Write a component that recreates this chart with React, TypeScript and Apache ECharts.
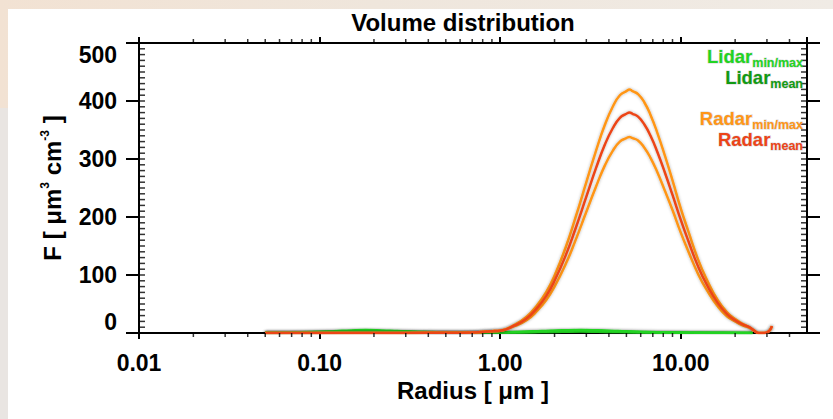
import React, { useEffect, useRef } from 'react';
import * as echarts from 'echarts';

const FONT = '"Liberation Sans", Arial, Helvetica, sans-serif';

// ---- data ----
const radarRadius = [0.05, 0.07, 0.1, 0.15, 0.2, 0.3, 0.5, 0.7, 0.9, 1.0, 1.2, 1.4, 1.6, 1.8, 2.0, 2.3, 2.6, 3.0, 3.4, 3.8, 4.2, 4.6, 5.0, 5.2, 5.4, 5.8, 6.3, 6.8, 7.4, 8.2, 9.0, 10, 11, 12.5, 14, 16, 18, 20, 22, 24, 25.5, 27, 29, 30.5, 32];
const radarMean = [0, 0, 0, 0, 0, 0, 0.5, 1, 3, 4, 13, 25, 43, 64, 90, 133, 178, 235, 285, 325, 353, 371, 378, 380, 378, 373, 359, 340, 313, 275, 238, 195, 159, 114, 82, 52, 33, 22, 15, 10, 4, 0, 0, 2, 12];
const radarMax = [0, 0, 0, 0, 0, 0, 0.5, 1, 3, 4, 14, 28, 48, 71, 99, 147, 197, 260, 315, 359, 390, 410, 417, 420, 417, 412, 397, 376, 346, 304, 263, 215, 176, 126, 91, 57, 36, 24, 16, 10, 4, 0, 0, 2, 12];
const radarMin = [0, 0, 0, 0, 0, 0, 0.5, 1, 3, 4, 12, 22, 38, 57, 80, 118, 158, 209, 253, 289, 314, 330, 336, 338, 336, 332, 319, 302, 278, 244, 212, 173, 141, 101, 73, 46, 29, 20, 13, 9, 4, 0, 0, 2, 12];

const lidarRadius = [0.05, 0.07, 0.09, 0.12, 0.15, 0.18, 0.22, 0.27, 0.35, 0.45, 0.6, 0.8, 1.0, 1.3, 1.7, 2.2, 2.8, 3.5, 4.5, 6, 8, 11, 15, 20, 25];
const lidarMean = [0.3, 0.6, 1.2, 2.2, 3.2, 3.6, 3.2, 2.4, 1.5, 0.9, 0.6, 0.6, 0.9, 1.5, 2.4, 3.3, 3.7, 3.3, 2.4, 1.5, 0.9, 0.5, 0.3, 0.2, 0.1];
const lidarMax = [0.4, 0.9, 1.7, 3.1, 4.5, 5.1, 4.5, 3.4, 2.1, 1.3, 0.9, 0.9, 1.3, 2.1, 3.4, 4.6, 5.2, 4.6, 3.4, 2.1, 1.3, 0.7, 0.4, 0.3, 0.1];
const lidarMin = [0.2, 0.4, 0.8, 1.5, 2.1, 2.4, 2.1, 1.6, 1.0, 0.6, 0.4, 0.4, 0.6, 1.0, 1.6, 2.2, 2.5, 2.2, 1.6, 1.0, 0.6, 0.3, 0.2, 0.1, 0.1];

// axis settings
const xMin = 0.01;
const xMax = 50;
const yMin = 0;
const yMax = 500;
const yStep = 100;
const xDecades = [0.01, 0.1, 1, 10];
const xMinorMultipliers = [2, 3, 4, 5, 6, 7, 8, 9];
const yMinorStep = 10;

const COLORS = {
  lidarMinMax: '#22d322',
  lidarMean: '#129a12',
  radarMinMax: '#ff9618',
  radarMean: '#ec4418',
};

const pairs = (xs: number[], ys: number[]) => xs.map((x, i) => [x, ys[i]]);

const xMinorTicks: number[] = [];
xDecades.forEach((d) => xMinorMultipliers.forEach((m) => { const v = +(d * m).toPrecision(6); if (v < xMax) xMinorTicks.push(v); }));
const yMinorTicks: number[] = [];
for (let v = yMin + yMinorStep; v < yMax; v += yMinorStep) yMinorTicks.push(v);

const lineSeries = (name: string, xs: number[], ys: number[], color: string, width: number, z: number) => ({
  type: 'line',
  name,
  data: pairs(xs, ys),
  showSymbol: false,
  smooth: 0.5,
  z,
  lineStyle: { color, width, shadowColor: 'rgba(0,0,0,0.3)', shadowBlur: 3 },
  silent: true,
});

const tickSeries = (data: number[][], size: number[], offset: number[]) => ({
  type: 'scatter',
  data,
  symbol: 'rect',
  symbolSize: size,
  symbolOffset: offset,
  itemStyle: { color: '#000' },
  clip: false,
  silent: true,
  z: 10,
});

const labelFmt = (v: number) => {
  const l = Math.log10(v);
  if (Math.abs(l - Math.round(l)) > 1e-6) return '';
  return v.toFixed(2);
};

const axisLineStyle = { color: '#000', width: 2 };

const legendText = (main: string, sub: string, color: string, x: number, y: number) => ({
  type: 'text',
  x,
  y,
  z: 20,
  style: {
    text: `{a|${main}}{b|${sub}}`,
    align: 'right',
    verticalAlign: 'middle',
    stroke: 'rgba(140,140,140,0.35)',
    lineWidth: 1.2,
    rich: {
      a: { fontSize: 18.5, fontWeight: 'bold', fontFamily: FONT, fill: color, padding: [0, 0, 3, 0], verticalAlign: 'bottom' },
      b: { fontSize: 12.5, fontWeight: 'bold', fontFamily: FONT, fill: color, verticalAlign: 'bottom' },
    },
  },
});

const option: any = {
  animation: false,
  grid: { left: 139, right: 26, top: 43, bottom: 86, containLabel: false },
  xAxis: [
    {
      type: 'log', logBase: 10, min: xMin, max: xMax, position: 'bottom',
      splitLine: { show: false },
      axisLine: { show: true, onZero: false, lineStyle: axisLineStyle },
      axisTick: { show: true, inside: false, length: 6, lineStyle: axisLineStyle },
      axisLabel: { formatter: labelFmt, showMaxLabel: false, fontSize: 23, fontWeight: 'bold', fontFamily: FONT, color: '#000', margin: 18 },
      name: 'Radius [ μm ]', nameLocation: 'middle', nameGap: 44,
      nameTextStyle: { fontSize: 24, fontWeight: 'bold', fontFamily: FONT, color: '#000' },
    },
    {
      type: 'log', logBase: 10, min: xMin, max: xMax, position: 'top',
      splitLine: { show: false },
      axisLine: { show: true, onZero: false, lineStyle: axisLineStyle },
      axisTick: { show: true, inside: false, length: 6, lineStyle: axisLineStyle },
      axisLabel: { show: false },
    },
  ],
  yAxis: [
    {
      type: 'value', min: yMin, max: yMax, interval: yStep, position: 'left',
      splitLine: { show: false },
      axisLine: { show: true, onZero: false, lineStyle: axisLineStyle },
      axisTick: { show: true, inside: false, length: 13, lineStyle: axisLineStyle },
      axisLabel: { fontSize: 23, fontWeight: 'bold', fontFamily: FONT, color: '#000', margin: 22, verticalAlignMinLabel: 'bottom', verticalAlignMaxLabel: 'top' },
      name: 'F [ μm{sup|3} cm{sup|-3} ]', nameLocation: 'middle', nameGap: 74, nameRotate: 90,
      nameTextStyle: {
        fontSize: 24, fontWeight: 'bold', fontFamily: FONT, color: '#000', lineHeight: 26,
        rich: { sup: { fontSize: 12, fontWeight: 'bold', fontFamily: FONT, color: '#000', verticalAlign: 'top', lineHeight: 14 } },
      },
    },
    {
      type: 'value', min: yMin, max: yMax, interval: yStep, position: 'right',
      splitLine: { show: false },
      axisLine: { show: true, onZero: false, lineStyle: axisLineStyle },
      axisTick: { show: true, inside: false, length: 13, lineStyle: axisLineStyle },
      axisLabel: { show: false },
    },
  ],
  graphic: [
    {
      type: 'text', x: 463, y: 22, z: 20,
      style: { text: 'Volume distribution', fontSize: 24, fontWeight: 'bold', fontFamily: FONT, fill: '#000', align: 'center', verticalAlign: 'middle' },
    },
    legendText('Lidar', 'min/max', COLORS.lidarMinMax, 803, 58),
    legendText('Lidar', 'mean', COLORS.lidarMean, 803, 79),
    legendText('Radar', 'min/max', COLORS.radarMinMax, 803, 120),
    legendText('Radar', 'mean', COLORS.radarMean, 803, 141),
  ],
  series: [
    lineSeries('Lidar mean', lidarRadius, lidarMean, COLORS.lidarMean, 2.5, 2),
    lineSeries('Lidar min', lidarRadius, lidarMin, COLORS.lidarMinMax, 2.5, 3),
    lineSeries('Lidar max', lidarRadius, lidarMax, COLORS.lidarMinMax, 2.5, 3),
    lineSeries('Radar min', radarRadius, radarMin, COLORS.radarMinMax, 2.5, 4),
    lineSeries('Radar max', radarRadius, radarMax, COLORS.radarMinMax, 2.5, 4),
    lineSeries('Radar mean', radarRadius, radarMean, COLORS.radarMean, 2.5, 5),
    tickSeries(xMinorTicks.map((v) => [v, yMin]), [1.5, 4], [0, 2]),
    tickSeries(xMinorTicks.map((v) => [v, yMax]), [1.5, 4], [0, -2]),
    tickSeries(yMinorTicks.map((v) => [xMin, v]), [6, 1.5], [3, 0]),
    tickSeries(yMinorTicks.map((v) => [xMax, v]), [6, 1.5], [-3, 0]),
  ],
};

export default function App() {
  const ref = useRef<HTMLDivElement>(null);
  useEffect(() => {
    if (!ref.current) return;
    const chart = echarts.init(ref.current, undefined, { renderer: 'svg', width: 833, height: 419 });
    chart.setOption(option);
    return () => chart.dispose();
  }, []);
  return (
    <div style={{ position: 'fixed', left: 0, top: 0, width: 833, height: 419, overflow: 'hidden', background: 'linear-gradient(90deg, #f2e2d3 0%, #efe6dc 45%, #f0ebe5 100%)' }}>
      <div style={{ position: 'absolute', left: 0, top: 108, width: 8, height: 311, background: '#e9e5e2' }} />
      <div style={{ position: 'absolute', left: 8, top: 9, right: 0, bottom: 0, background: '#ffffff' }} />
      <div ref={ref} style={{ position: 'absolute', left: 0, top: 0, width: 833, height: 419 }} />
    </div>
  );
}
